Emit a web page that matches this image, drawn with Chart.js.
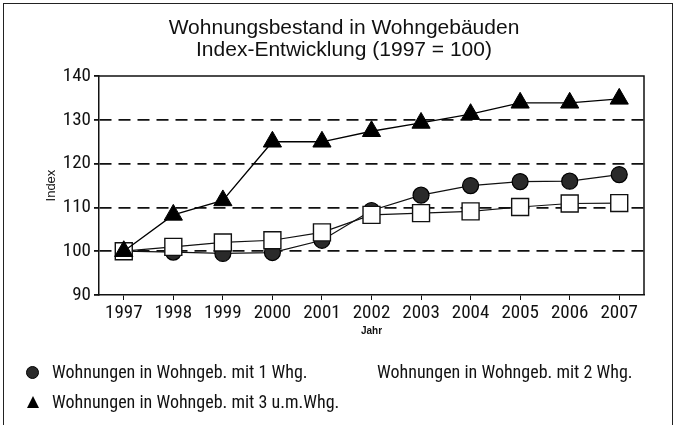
<!DOCTYPE html>
<html>
<head>
<meta charset="utf-8">
<script src="https://cdn.jsdelivr.net/npm/chart.js@4.4.1/dist/chart.umd.min.js"></script>
<style>
  html, body { margin: 0; padding: 0; background: #fff; }
  #wrap { position: relative; width: 676px; height: 425px; overflow: hidden; }
  #frame { position: absolute; left: 3px; top: 3px; width: 670px; height: 440px;
           border: 1.5px solid #222; box-sizing: border-box; }
  canvas { position: absolute; left: 0; top: 0; }
  .leg { position: absolute; font-family: "Roboto Condensed", "DejaVu Sans Condensed", sans-serif;
         font-size: 18px; line-height: 20px; color: #111; white-space: nowrap; }
  .dot { position: absolute; width: 13px; height: 13px; border-radius: 50%; background: #2a2a2a;
         border: 1px solid #000; box-sizing: border-box; }
  .tri { position: absolute; width: 0; height: 0; border-left: 6.5px solid transparent;
         border-right: 6.5px solid transparent; border-bottom: 12px solid #000; }
</style>
</head>
<body>
<div id="wrap">
  <div id="frame"></div>
  <canvas id="c" width="676" height="425"></canvas>
  <span class="dot" style="left:26px; top:366px;"></span>
  <div class="leg" id="leg0" style="left:52px; top:362px;"></div>
  <div class="leg" id="leg1" style="left:377px; top:362px;"></div>
  <span class="tri" style="left:27px; top:396px;"></span>
  <div class="leg" id="leg2" style="left:52px; top:392px;"></div>
</div>
<script>
// data
const years = ["1997","1998","1999","2000","2001","2002","2003","2004","2005","2006","2007"];
const einWhg   = [100, 99.8, 99.5, 99.7, 102.5, 109.3, 112.8, 115, 115.9, 116, 117.5];
const zweiWhg  = [100, 101, 102, 102.5, 104.3, 108.3, 108.7, 109.1, 110.1, 110.9, 111];
const dreiWhg  = [100, 108.3, 111.6, 125, 125, 127.4, 129.3, 131.3, 133.9, 133.9, 134.8];
const seriesNames = ["Wohnungen in Wohngeb. mit 1 Whg.", "Wohnungen in Wohngeb. mit 2 Whg.", "Wohnungen in Wohngeb. mit 3 u.m.Whg."];

seriesNames.forEach((n, i) => { document.getElementById("leg" + i).textContent = n; });

const cond = "'Roboto Condensed', 'DejaVu Sans Condensed', sans-serif";
const arial = "'Liberation Sans', Arial, sans-serif";

// top + right border of the plot area
const boxPlugin = {
  id: "box",
  afterDatasetsDraw(chart) {
    const a = chart.chartArea, ctx = chart.ctx;
    ctx.save();
    ctx.strokeStyle = "#111";
    ctx.lineWidth = 1.5;
    ctx.beginPath();
    ctx.moveTo(a.left, a.top); ctx.lineTo(a.right, a.top); ctx.lineTo(a.right, a.bottom);
    ctx.stroke();
    ctx.restore();
  }
};

new Chart(document.getElementById("c"), {
  type: "line",
  data: {
    labels: years,
    datasets: [
      { label: seriesNames[0], data: einWhg, order: 2, borderColor: "#111", borderWidth: 1.2,
        pointStyle: "circle", pointRadius: 8, pointBackgroundColor: "#2a2a2a", pointBorderColor: "#000", pointBorderWidth: 1.2 },
      { label: seriesNames[1], data: zweiWhg, order: 1, borderColor: "#111", borderWidth: 1.2,
        pointStyle: "rect", pointRadius: 12, pointBackgroundColor: "#fff", pointBorderColor: "#111", pointBorderWidth: 1.4 },
      { label: seriesNames[2], data: dreiWhg, order: 0, borderColor: "#000", borderWidth: 1.3,
        pointStyle: "triangle", pointRadius: 10.5, pointBackgroundColor: "#000", pointBorderColor: "#000", pointBorderWidth: 1 }
    ]
  },
  options: {
    responsive: false,
    animation: false,
    layout: { padding: { left: 44, right: 32, top: 0, bottom: 88 } },
    plugins: {
      legend: { display: false },
      tooltip: { enabled: false },
      title: {
        display: true,
        text: ["Wohnungsbestand in Wohngebäuden", "Index-Entwicklung (1997 = 100)"],
        color: "#111",
        font: { family: arial, size: 21, weight: "normal", lineHeight: 1.05 },
        padding: { top: 17, bottom: 15 }
      }
    },
    scales: {
      x: {
        offset: true,
        afterFit: s => { s.height = 42; },
        border: { color: "#111", width: 1.5 },
        grid: { drawOnChartArea: false, drawTicks: true, tickLength: 5, color: "#111" },
        ticks: { color: "#111", padding: 2, font: { family: cond, size: 19 } },
        title: { display: true, text: "Jahr", color: "#111", padding: { top: 0, bottom: 0 },
                 font: { family: arial, size: 10, weight: "bold" } }
      },
      y: {
        min: 90, max: 140,
        afterFit: s => { s.width = 55; },
        border: { color: "#111", width: 1.5, dash: [12, 7] },
        ticks: { stepSize: 5, color: "#111", padding: 3, font: { family: cond, size: 19 },
                 callback: v => (v % 10 === 0 ? v : "") },
        grid: {
          drawTicks: true, tickLength: 5,
          tickColor: "#111",
          tickBorderDash: [],
          color: c => {
            const v = c.tick ? c.tick.value : 0;
            return (v % 10 === 0 && v > 90 && v < 140) ? "#111" : "rgba(0,0,0,0)";
          },
          lineWidth: 1.8
        },
        title: { display: true, text: "Index", color: "#111", padding: { top: 0, bottom: 2 },
                 font: { family: arial, size: 13 } }
      }
    },
    elements: { line: { tension: 0 } }
  },
  plugins: [boxPlugin]
});
</script>
</body>
</html>
